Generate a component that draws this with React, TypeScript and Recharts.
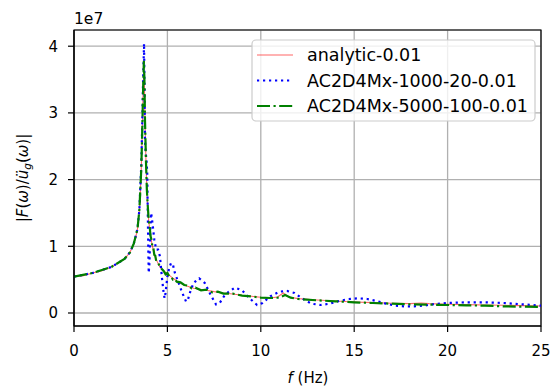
import { LineChart, Line, XAxis, YAxis, CartesianGrid, ReferenceArea } from "recharts"

// frequency (Hz) and |F(w)/ug''(w)| amplitude, amplitudes in units of 1e7
const analyticFreq = [0, 0.5, 1, 1.5, 2, 2.4, 2.7, 3, 3.2, 3.3, 3.4, 3.5, 3.55, 3.6, 3.65, 3.7, 3.73, 3.76, 3.8, 3.85, 3.9, 3.95, 4, 4.1, 4.2, 4.3, 4.4, 4.6, 4.8, 5, 5.3, 5.6, 6, 6.4, 7, 7.5, 8, 8.5, 9, 9.5, 10, 10.5, 10.9, 11.2, 11.5, 12, 12.5, 13, 14, 15, 16, 17, 18, 18.6, 19, 20, 21, 22, 23, 24, 25]
const analyticAmp = [0.545, 0.56, 0.6, 0.635, 0.69, 0.755, 0.81, 0.91, 1.04, 1.13, 1.26, 1.55, 1.8, 2.15, 2.7, 3.3, 3.65, 3.6, 2.9, 2.3, 1.85, 1.55, 1.38, 1.15, 1.0, 0.88, 0.8, 0.69, 0.63, 0.59, 0.52, 0.46, 0.41, 0.37, 0.345, 0.32, 0.3, 0.285, 0.265, 0.25, 0.235, 0.225, 0.24, 0.3, 0.24, 0.215, 0.205, 0.195, 0.18, 0.165, 0.155, 0.145, 0.14, 0.15, 0.14, 0.13, 0.125, 0.12, 0.115, 0.11, 0.105]

const coarseFreq = [0, 1, 2, 2.7, 3, 3.2, 3.4, 3.5, 3.6, 3.65, 3.7, 3.75, 3.78, 3.8, 3.84, 3.88, 3.92, 3.95, 3.98, 4, 4.04, 4.08, 4.13, 4.2, 4.3, 4.4, 4.5, 4.6, 4.7, 4.8, 4.85, 4.9, 5, 5.1, 5.2, 5.3, 5.4, 5.6, 5.8, 6, 6.1, 6.2, 6.4, 6.7, 7, 7.3, 7.6, 7.8, 8.1, 8.6, 9, 9.4, 9.8, 10.1, 10.5, 11, 11.4, 11.8, 12.2, 12.7, 13.2, 13.7, 14.2, 14.7, 15.2, 15.7, 16.2, 16.7, 17.2, 17.7, 18.2, 18.7, 19.2, 20, 21, 22, 23, 24, 25]
const coarseAmp = [0.545, 0.6, 0.69, 0.81, 0.91, 1.04, 1.26, 1.55, 2.2, 2.8, 3.5, 4.04, 3.3, 2.6, 2.4, 2.3, 2.1, 1.5, 0.9, 0.6, 0.75, 1.2, 1.5, 1.35, 1.1, 0.95, 0.95, 0.85, 0.55, 0.3, 0.22, 0.3, 0.55, 0.68, 0.75, 0.72, 0.6, 0.45, 0.3, 0.17, 0.2, 0.3, 0.45, 0.52, 0.45, 0.28, 0.13, 0.15, 0.28, 0.38, 0.34, 0.22, 0.12, 0.15, 0.25, 0.32, 0.33, 0.3, 0.22, 0.14, 0.12, 0.14, 0.18, 0.21, 0.22, 0.21, 0.18, 0.14, 0.11, 0.1, 0.1, 0.11, 0.13, 0.15, 0.16, 0.16, 0.15, 0.13, 0.11]

const fineFreq = [0, 1, 2, 2.7, 3, 3.2, 3.4, 3.5, 3.6, 3.65, 3.7, 3.74, 3.77, 3.8, 3.85, 3.9, 3.95, 4, 4.05, 4.1, 4.15, 4.2, 4.25, 4.3, 4.35, 4.4, 4.5, 4.6, 4.7, 4.8, 4.9, 5, 5.1, 5.2, 5.3, 5.4, 5.5, 5.7, 5.9, 6.1, 6.3, 6.5, 6.8, 7.1, 7.4, 7.7, 8, 8.5, 9, 9.5, 10, 10.5, 11, 11.3, 11.6, 12, 13, 14, 15, 16, 17, 18, 19, 20, 21, 22, 23, 24, 25]
const fineAmp = [0.545, 0.6, 0.69, 0.81, 0.91, 1.04, 1.26, 1.55, 2.15, 2.7, 3.35, 3.78, 3.5, 2.9, 2.3, 1.85, 1.6, 1.4, 1.3, 1.15, 1.1, 0.98, 0.97, 0.87, 0.86, 0.78, 0.75, 0.7, 0.66, 0.63, 0.58, 0.6, 0.55, 0.54, 0.5, 0.51, 0.47, 0.46, 0.42, 0.41, 0.37, 0.38, 0.34, 0.35, 0.31, 0.32, 0.29, 0.29, 0.26, 0.25, 0.23, 0.225, 0.23, 0.27, 0.23, 0.21, 0.19, 0.175, 0.16, 0.15, 0.14, 0.13, 0.125, 0.12, 0.115, 0.11, 0.1, 0.095, 0.09]

const xTicks = [0, 5, 10, 15, 20, 25]
const yTicks = [0, 1, 2, 3, 4]

const toPoints = (f: number[], a: number[]) => f.map((x, i) => ({ f: x, v: a[i] }))

const series = [
    { name: "analytic-0.01", color: "#ff0000", opacity: 0.6, width: 1.1, dash: undefined as string | undefined, data: toPoints(analyticFreq, analyticAmp) },
    { name: "AC2D4Mx-1000-20-0.01", color: "#0000ff", opacity: 1, width: 2.2, dash: "2.2 3.8", data: toPoints(coarseFreq, coarseAmp) },
    { name: "AC2D4Mx-5000-100-0.01", color: "#008000", opacity: 1, width: 2.2, dash: "13 3.5 2.2 3.5", data: toPoints(fineFreq, fineAmp) },
]

const font = "DejaVu Sans"
const tickStyle = { fill: "#000", fontSize: 15, fontFamily: font }

export default function App() {
    return (
        <div style={{ position: "relative", width: 552, height: 390, background: "#fff" }}>
            <style>{`body{margin:0}`}</style>
            <LineChart width={552} height={390} margin={{ top: 30, right: 11, left: 0, bottom: 0 }}>
                <CartesianGrid stroke="#b0b0b0" strokeWidth={1.3} />
                <XAxis
                    dataKey="f"
                    type="number"
                    domain={[0, 25]}
                    ticks={xTicks}
                    allowDataOverflow
                    height={64}
                    tick={tickStyle}
                    tickSize={6}
                    tickMargin={13}
                    axisLine={{ stroke: "#000", strokeWidth: 1.2 }}
                    tickLine={{ stroke: "#000", strokeWidth: 1.2 }}
                />
                <YAxis
                    dataKey="v"
                    type="number"
                    domain={[-0.195, 4.243]}
                    ticks={yTicks}
                    allowDataOverflow
                    width={74}
                    tick={tickStyle}
                    tickSize={6}
                    tickMargin={10}
                    axisLine={{ stroke: "#000", strokeWidth: 1.2 }}
                    tickLine={{ stroke: "#000", strokeWidth: 1.2 }}
                />
                {series.map(s => (
                    <Line
                        key={s.name}
                        data={s.data}
                        dataKey="v"
                        name={s.name}
                        type="linear"
                        stroke={s.color}
                        strokeOpacity={s.opacity}
                        strokeWidth={s.width}
                        strokeDasharray={s.dash}
                        dot={false}
                        activeDot={false}
                        isAnimationActive={false}
                    />
                ))}
                <ReferenceArea x1={0} x2={25} y1={-0.195} y2={4.243} fill="none" stroke="#000" strokeWidth={1.2} />
            </LineChart>
            {/* axis labels, offset text and legend */}
            <svg width={552} height={390} style={{ position: "absolute", left: 0, top: 0, pointerEvents: "none" }} fontFamily={font}>
                <text x={74} y={24} fontSize={15.5} fill="#000">1e7</text>
                <text x={308} y={383} fontSize={15} textAnchor="middle" fill="#000">
                    <tspan fontStyle="italic">f</tspan> (Hz)
                </text>
                <text transform="translate(28,178) rotate(-90)" fontSize={15} textAnchor="middle" fill="#000">
                    |<tspan fontStyle="italic">F</tspan>(<tspan fontStyle="italic">ω</tspan>)/<tspan fontStyle="italic">ü</tspan>
                    <tspan fontStyle="italic" fontSize={10.5} dy={3}>g</tspan>
                    <tspan dy={-3}>(</tspan><tspan fontStyle="italic">ω</tspan>)|
                </text>
                <rect x={252} y={40} width={283} height={81} rx={4} fill="#fff" fillOpacity={0.8} stroke="#cccccc" strokeWidth={1.2} />
                {series.map((s, i) => (
                    <g key={s.name}>
                        <line x1={257} x2={293} y1={55 + i * 25.5} y2={55 + i * 25.5} stroke={s.color} strokeOpacity={s.opacity} strokeWidth={s.width} strokeDasharray={s.dash} />
                        <text x={307} y={55 + i * 25.5} dy="0.36em" fontSize={17.5} fill="#000">{s.name}</text>
                    </g>
                ))}
            </svg>
        </div>
    )
}
